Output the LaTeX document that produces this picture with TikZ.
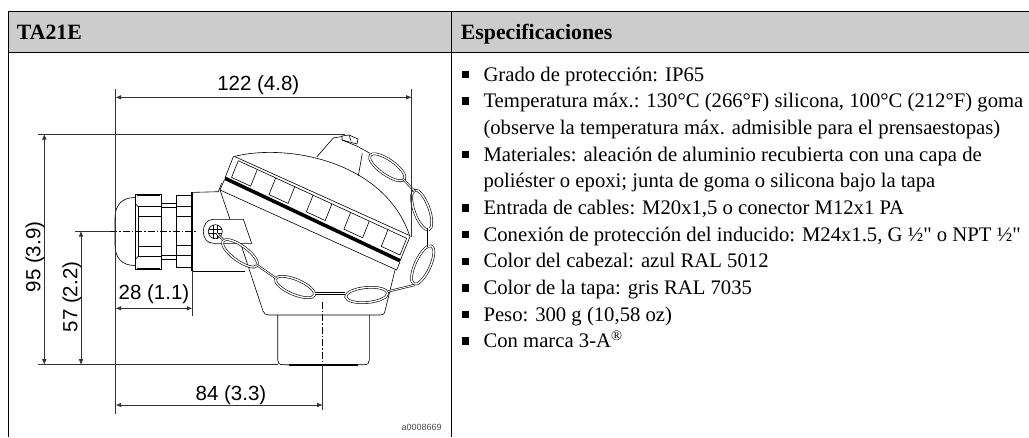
\documentclass[tikz,border=0pt]{standalone}
\usepackage{fontspec}
\setmainfont{Liberation Serif}
\setsansfont{Liberation Sans}
\newfontfamily\specfont{Liberation Serif}
\usepackage{tikz}
\usetikzlibrary{arrows.meta, calc}
\begin{document}
\begin{tikzpicture}[x=1pt, y=-1pt, % styles used in image code
         > = {Latex[length=5.5pt,width=4.5pt]},
     frame/.style = {line width=1.1pt},
     solid line/.style = {line width=0.6pt},
     dim/.style = {line width=0.6pt, draw=black!80},
     dimtext/.style = {font=\sffamily\fontsize{20.5}{20.5}\selectfont, inner sep=0pt},
     head/.style = {font=\bfseries\fontsize{21.8}{21.8}\selectfont, anchor=base west, inner sep=0pt},
     item/.style = {font=\specfont\fontsize{20.7}{20.7}\selectfont, anchor=base west, inner sep=0pt},
     mark box/.style = {fill=black, minimum size=7.5pt, inner sep=0pt, outer sep=0pt},
     ring/.style = {draw=black, line width=0.6pt, double=white, double distance=1.4pt},
     chain/.style = {draw=black, line width=0.6pt, double=white, double distance=0.9pt}
                        ]
	\useasboundingbox (0,0) rectangle (1029,437);

	% table header and frame
	\fill[black!20] (8.5,11.2) rectangle (1029,52.7);
	\draw[frame] (8.5,11.2) -- (1029,11.2);
	\draw[frame] (8.5,52.7) -- (1029,52.7);
	\draw[frame] (8.5,11.2) -- (8.5,437);
	\draw[frame] (451.5,11.2) -- (451.5,437);
	\node[head] (title) at (16.7,39.3) {TA21E};
	\node[head] (spec) at (460.7,39.3) {Especificaciones};

	% list on the right
	\foreach \i/\ypos/\txt in {1/81/{Grado de protección: IP65},
	    2/107.7/{Temperatura máx.: 130°C (266°F) silicona, 100°C (212°F) goma},
	    4/161/{Materiales: aleación de aluminio recubierta con una capa de},
	    6/214.4/{Entrada de cables: M20x1,5 o conector M12x1 PA},
	    7/241/{Conexión de protección del inducido: M24x1.5, G ½" o NPT ½"},
	    8/267.8/{Color del cabezal: azul RAL 5012},
	    9/294.4/{Color de la tapa: gris RAL 7035},
	    10/321/{Peso: 300 g (10,58 oz)},
	    11/347.7/{Con marca 3-A\textsuperscript{®}}}
	{
	    \node[item] (line\i) at (483.3,\ypos) {\txt};
	    \node[mark box] (mark\i) at (465.7,\ypos-6.5) {};
	}
	\node[item] (line3) at (483.3,134.4) {(observe la temperatura máx. admisible para el prensaestopas)};
	\node[item] (line5) at (483.3,187.7) {poliéster o epoxi; junta de goma o silicona bajo la tapa};

	% cable gland
	\draw[solid line] (135,197.5) .. controls (122,197.5) and (115,205) .. (115,218)
	     -- (115,245) .. controls (115,258) and (122,265.5) .. (135,265.5);
	\draw[solid line] (135,194.5) rectangle (161.5,269);
	\draw[line width=1.6pt] (137,195) -- (160,195);
	\draw[line width=1.6pt] (137,268.5) -- (160,268.5);
	\draw[solid line] (135,203) -- (138,206.5) -- (161.5,206.5);
	\draw[solid line] (135,260) -- (138,256.5) -- (161.5,256.5);
	\draw[solid line] (138,216.5) -- (161.5,216.5);
	\draw[solid line] (138,246.5) -- (161.5,246.5);
	\draw[solid line] (138,206.5) -- (138,256.5);
	\draw[solid line] (161.5,203) rectangle (176.5,259);
	\draw[solid line] (161.5,207.5) -- (176.5,207.5);
	\draw[solid line] (161.5,255) -- (176.5,255);
	\draw[solid line] (176.5,195.5) rectangle (192,267.5);
	\draw[solid line] (176.5,206.5) -- (192,206.5);
	\draw[solid line] (176.5,216.5) -- (192,216.5);
	\draw[solid line] (176.5,245.5) -- (192,245.5);
	\draw[solid line] (176.5,255.5) -- (192,255.5);

	% housing
	\draw[line width=1.1pt] (192,192) -- (192,271);
	\draw[solid line] (192,192.4) -- (218.3,191.7) -- (221.7,183);
	\draw[solid line] (220,190) -- (230,219.3);
	\draw[solid line] (192,271) -- (245,271);
	\draw[solid line] (241.7,246.7) -- (263,311) .. controls (264,314) and (266,315) .. (269,315)
	     -- (380,315) .. controls (383,315) and (384,314.5) .. (385,311) -- (395,270);

	% terminal lug
	\draw[solid line] (243.3,219.3) -- (213.3,219.3) .. controls (207,219.3) and (203.3,225) .. (203.3,231.5)
	     .. controls (203.3,238) and (207,243.3) .. (213.3,243.3) -- (251.7,243.3) -- cycle;
	\draw[solid line] (215.3,231.7) circle (7);
	\draw[solid line] (208.5,229.7) -- (222,229.7);
	\draw[solid line] (208.5,233.7) -- (222,233.7);
	\draw[solid line] (213.3,225) -- (213.3,238.5);
	\draw[solid line] (217.3,225) -- (217.3,238.5);

	% neck
	\draw[solid line] (277.7,315) -- (277.7,360) .. controls (277.7,363) and (279,364.7) .. (283,364.7)
	     -- (364,364.7) .. controls (368,364.7) and (369.3,363) .. (369.3,360) -- (369.3,315);
	\draw[line width=1.6pt] (289,364.7) -- (358,364.7);

	% cover
	\draw[solid line] (225,178) -- (233.3,156.7) .. controls (285,143) and (385,160) .. (410,236.7) -- (400,261);
	\draw[solid line] (235,156.7) -- (410,235.7);
	\draw[solid line] (238.3,160.7) -- (406.7,238.3);
	\draw[line width=3.6pt] (225,178.3) -- (400,260.7);
	\draw[solid line] (224.3,180) -- (220,190) -- (396.7,270) -- (400,261.7);
	\coordinate (ribA) at (238.3,160.7);
	\coordinate (ribB) at (406.7,238.3);
	\foreach \ta/\tb in {0/0.113,0.222/0.335,0.444/0.556,0.667/0.778,0.889/1}{
	    \draw[solid line] ($(ribA)!\ta!(ribB)$) -- ++(-6.7,16.7) -- ($(ribA)!\tb!(ribB)+(-6.7,16.7)$) -- ($(ribA)!\tb!(ribB)$);
	}

	% raised part of the cover
	\draw[solid line] (316.7,157) -- (333.3,138) -- (342,136.5);
	\draw[solid line] (342,136) -- (349,135) -- (358,139) -- (357,144) -- (342,140) -- cycle;
	\draw[solid line] (349,135) -- (351,141);
	\draw[solid line] (342,140) -- (356.7,146) -- (370,153.3);
	\draw[solid line] (362.3,153.3) -- (358.3,176);

	% chain
	\foreach \cx/\cy/\rot in {387.3/167.3/-35, 421.7/210/-70, 422.7/265/65, 366.7/295/5, 295/287/-23, 240/253.3/-36}{
	    \draw[ring, shift={(\cx,\cy)}, rotate=\rot] (0,0) ellipse (21 and 7.5);
	}
	\draw[chain] (403.3,179.3) -- (415,191.7);
	\draw[chain] (428.3,228.3) -- (428.3,246.7);
	\draw[chain] (414.5,285) -- (388,291.5);
	\draw[chain] (345,293.5) -- (315,293.5);
	\draw[chain] (276,278.3) -- (257,265);
	\draw[chain] (223.3,240) -- (216.7,233.3);

	% centre lines
	\draw[solid line, dash pattern=on 7pt off 2pt on 1.5pt off 2pt] (110,231) -- (197,231);
	\draw[solid line, dash pattern=on 7pt off 2pt on 1.5pt off 2pt] (322.7,301.7) -- (322.7,364.7);

	% dimension lines
	\coordinate (xl) at (115.7,89);
	\coordinate (xlb) at (115.7,414);
	\coordinate (xr) at (411.7,89.3);
	\coordinate (xre) at (411.7,236.7);
	\coordinate (yt) at (38,134);
	\coordinate (yte) at (345,134);
	\coordinate (yb) at (38,364.7);
	\coordinate (ybe) at (278,364.7);
	\draw[dim] (xl) -- (xlb);
	\draw[dim] (xr) -- (xre);
	\draw[dim] (yt) -- (yte);
	\draw[dim] (yb) -- (ybe);
	\draw[dim] (75,231) -- (110,231);
	\draw[dim] (192.3,271) -- (192.3,316);
	\draw[dim] (322.7,364.7) -- (322.7,410);
	\coordinate (w1l) at (115.7,97.3);
	\coordinate (w1r) at (411.7,97.3);
	\coordinate (w2l) at (115.7,308.3);
	\coordinate (w2r) at (192.3,308.3);
	\coordinate (w3l) at (115.7,405);
	\coordinate (w3r) at (322.7,405);
	\coordinate (h1t) at (44.3,134);
	\coordinate (h1b) at (44.3,364.7);
	\coordinate (h2t) at (81,231);
	\coordinate (h2b) at (81,364.7);
	\draw[dim,<->] (w1l) -- (w1r);
	\draw[dim,<->] (w2l) -- (w2r);
	\draw[dim,<->] (w3l) -- (w3r);
	\draw[dim,<->] (h1t) -- (h1b);
	\draw[dim,<->] (h2t) -- (h2b);
	\node[dimtext] (w1) at (258.3,85) {122 (4.8)};
	\node[dimtext] (w2) at (154,294) {28 (1.1)};
	\node[dimtext] (w3) at (231,395) {84 (3.3)};
	\node[dimtext, rotate=90] (h1) at (35,257) {95 (3.9)};
	\node[dimtext, rotate=90] (h2) at (72,297) {57 (2.2)};
	\node[font=\sffamily\fontsize{9}{9}\selectfont, inner sep=0pt, text=black!70] (code) at (421.7,427.7) {a0008669};
\end{tikzpicture}
\end{document}
